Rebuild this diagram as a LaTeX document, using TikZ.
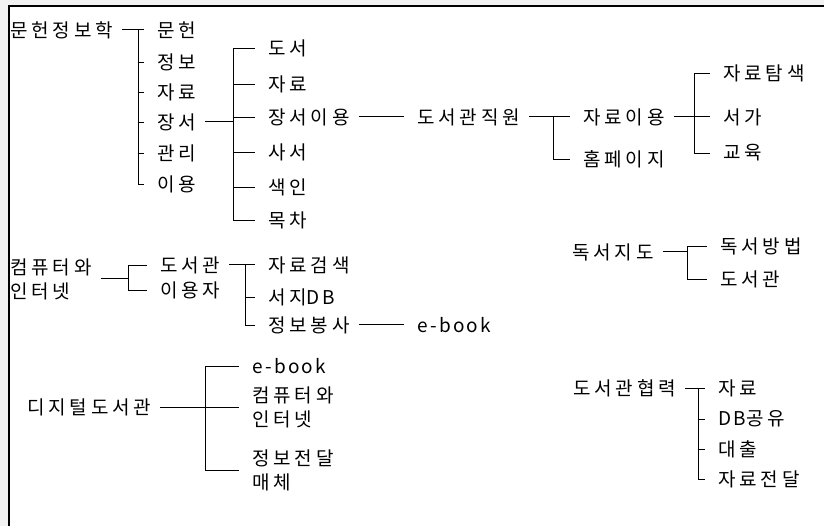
\documentclass[tikz,border=0pt]{standalone}
\usepackage{fontspec}
\usepackage{tikz}
\newfontfamily\krfont[LetterSpace=20]{Noto Sans CJK KR}
\newfontfamily\latfont[LetterSpace=12]{Noto Sans CJK KR}

\tikzset{
  lbl/.style={inner sep=0pt, anchor=west, align=left,
    font=\krfont\fontsize{19}{24}\selectfont},
  stem/.style={line width=1pt, shorten <=9pt},
  tick/.style={line width=0.9pt, shorten >=13pt},
  link/.style={line width=1pt, shorten <=9pt, shorten >=13pt},
}

\begin{document}
\begin{tikzpicture}[x=1pt,y=-1pt]
    \useasboundingbox (0,0) rectangle (824,526);

    % Frame
    \fill[gray!10] (0,0) rectangle (824,526);
    \fill[white] (9,6) rectangle (824,526);
    \draw[line width=1.4pt] (9,526) -- (9,6) -- (824,6);

    % Junctions
    \coordinate (j1) at (138,0);
    \coordinate (j2) at (233,0);
    \coordinate (j3) at (553,0);
    \coordinate (j4) at (694,0);
    \coordinate (j5) at (128,0);
    \coordinate (j6) at (245,0);
    \coordinate (j7) at (687,0);
    \coordinate (j8) at (205,0);
    \coordinate (j9) at (698,0);

    % Labels
    \node[lbl] (mhjb) at (10,30) {문헌정보학};
    \node[lbl] (mh) at (157,30) {문헌};
    \node[lbl] (jb) at (157,62) {정보};
    \node[lbl] (jr1) at (157,92) {자료};
    \node[lbl] (js) at (157,122) {장서};
    \node[lbl] (gr) at (157,153) {관리};
    \node[lbl] (iy) at (157,184) {이용};

    \node[lbl] (ds) at (268,48) {도서};
    \node[lbl] (jr2) at (268,84) {자료};
    \node[lbl] (jsiy) at (268,117) {장서이용};
    \node[lbl] (ss) at (268,152) {사서};
    \node[lbl] (si) at (268,187) {색인};
    \node[lbl] (mc) at (268,220) {목차};

    \node[lbl] (dgj) at (417,117) {도서관직원};
    \node[lbl] (jriy) at (583,117) {자료이용};
    \node[lbl] (hp) at (583,159) {홈페이지};
    \node[lbl] (jrts) at (723,73) {자료탐색};
    \node[lbl] (sg) at (723,117) {서가};
    \node[lbl] (gy) at (723,153) {교육};

    \node[lbl] (ci1) at (10,279) {컴퓨터와\\인터넷};
    \node[lbl] (dsg1) at (160,265) {도서관};
    \node[lbl] (iyj) at (160,290) {이용자};
    \node[lbl] (jrgs) at (268,265) {자료검색};
    \node[lbl] (sjdb) at (268,297) {서지{\latfont DB}};
    \node[lbl] (jbbs) at (268,325) {정보봉사};
    \node[lbl] (eb1) at (417,325) {\latfont e-book};

    \node[lbl] (dsjd) at (572,252) {독서지도};
    \node[lbl] (dsbb) at (720,246) {독서방법};
    \node[lbl] (dsg2) at (720,279) {도서관};

    \node[lbl] (djds) at (27,407) {디지털도서관};
    \node[lbl] (eb2) at (252,366) {\latfont e-book};
    \node[lbl] (ci2) at (252,407) {컴퓨터와\\인터넷};
    \node[lbl] (jbjd) at (252,470) {정보전달\\매체};

    \node[lbl] (dshr) at (573,388) {도서관협력};
    \node[lbl] (jr3) at (718,388) {자료};
    \node[lbl] (dbgy) at (718,419) {{\latfont DB}공유};
    \node[lbl] (dc) at (718,449) {대출};
    \node[lbl] (jrjd) at (718,479) {자료전달};

    % Tree: 문헌정보학
    \draw[link] (mhjb) -- (mh);
    \draw[line width=0.9pt] (j1 |- mh) -- (j1 |- iy);
    \foreach \c in {jb,jr1,js,gr,iy}
        \draw[tick] (j1 |- \c) -- (\c.west);

    \draw[stem] (js.east) -- (j2 |- js);
    \draw[line width=0.9pt] (j2 |- ds) -- (j2 |- mc);
    \foreach \c in {ds,jr2,jsiy,ss,si,mc}
        \draw[tick] (j2 |- \c) -- (\c.west);

    \draw[link] (jsiy) -- (dgj);
    \draw[link] (dgj) -- (jriy);
    \draw[line width=0.9pt] (j3 |- jriy) -- (j3 |- hp);
    \draw[tick] (j3 |- hp) -- (hp.west);

    \draw[link] (jriy) -- (sg);
    \draw[line width=0.9pt] (j4 |- jrts) -- (j4 |- gy);
    \foreach \c in {jrts,gy}
        \draw[tick] (j4 |- \c) -- (\c.west);

    % Tree: 컴퓨터와 인터넷
    \draw[stem] (ci1.east) -- (j5 |- ci1);
    \draw[line width=0.9pt] (j5 |- dsg1) -- (j5 |- iyj);
    \foreach \c in {dsg1,iyj}
        \draw[tick] (j5 |- \c) -- (\c.west);

    \draw[link] (dsg1) -- (jrgs);
    \draw[line width=0.9pt] (j6 |- jrgs) -- (j6 |- jbbs);
    \foreach \c in {sjdb,jbbs}
        \draw[tick] (j6 |- \c) -- (\c.west);
    \draw[link] (jbbs) -- (eb1);

    % Tree: 독서지도
    \draw[stem] (dsjd.east) -- (j7 |- dsjd);
    \draw[line width=0.9pt] (j7 |- dsbb) -- (j7 |- dsg2);
    \foreach \c in {dsbb,dsg2}
        \draw[tick] (j7 |- \c) -- (\c.west);

    % Tree: 디지털도서관
    \draw[link] (djds) -- (ci2);
    \draw[line width=0.9pt] (j8 |- eb2) -- (j8 |- jbjd);
    \foreach \c in {eb2,jbjd}
        \draw[tick] (j8 |- \c) -- (\c.west);

    % Tree: 도서관협력
    \draw[link] (dshr) -- (jr3);
    \draw[line width=0.9pt] (j9 |- jr3) -- (j9 |- jrjd);
    \foreach \c in {dbgy,dc,jrjd}
        \draw[tick] (j9 |- \c) -- (\c.west);

\end{tikzpicture}
\end{document}
